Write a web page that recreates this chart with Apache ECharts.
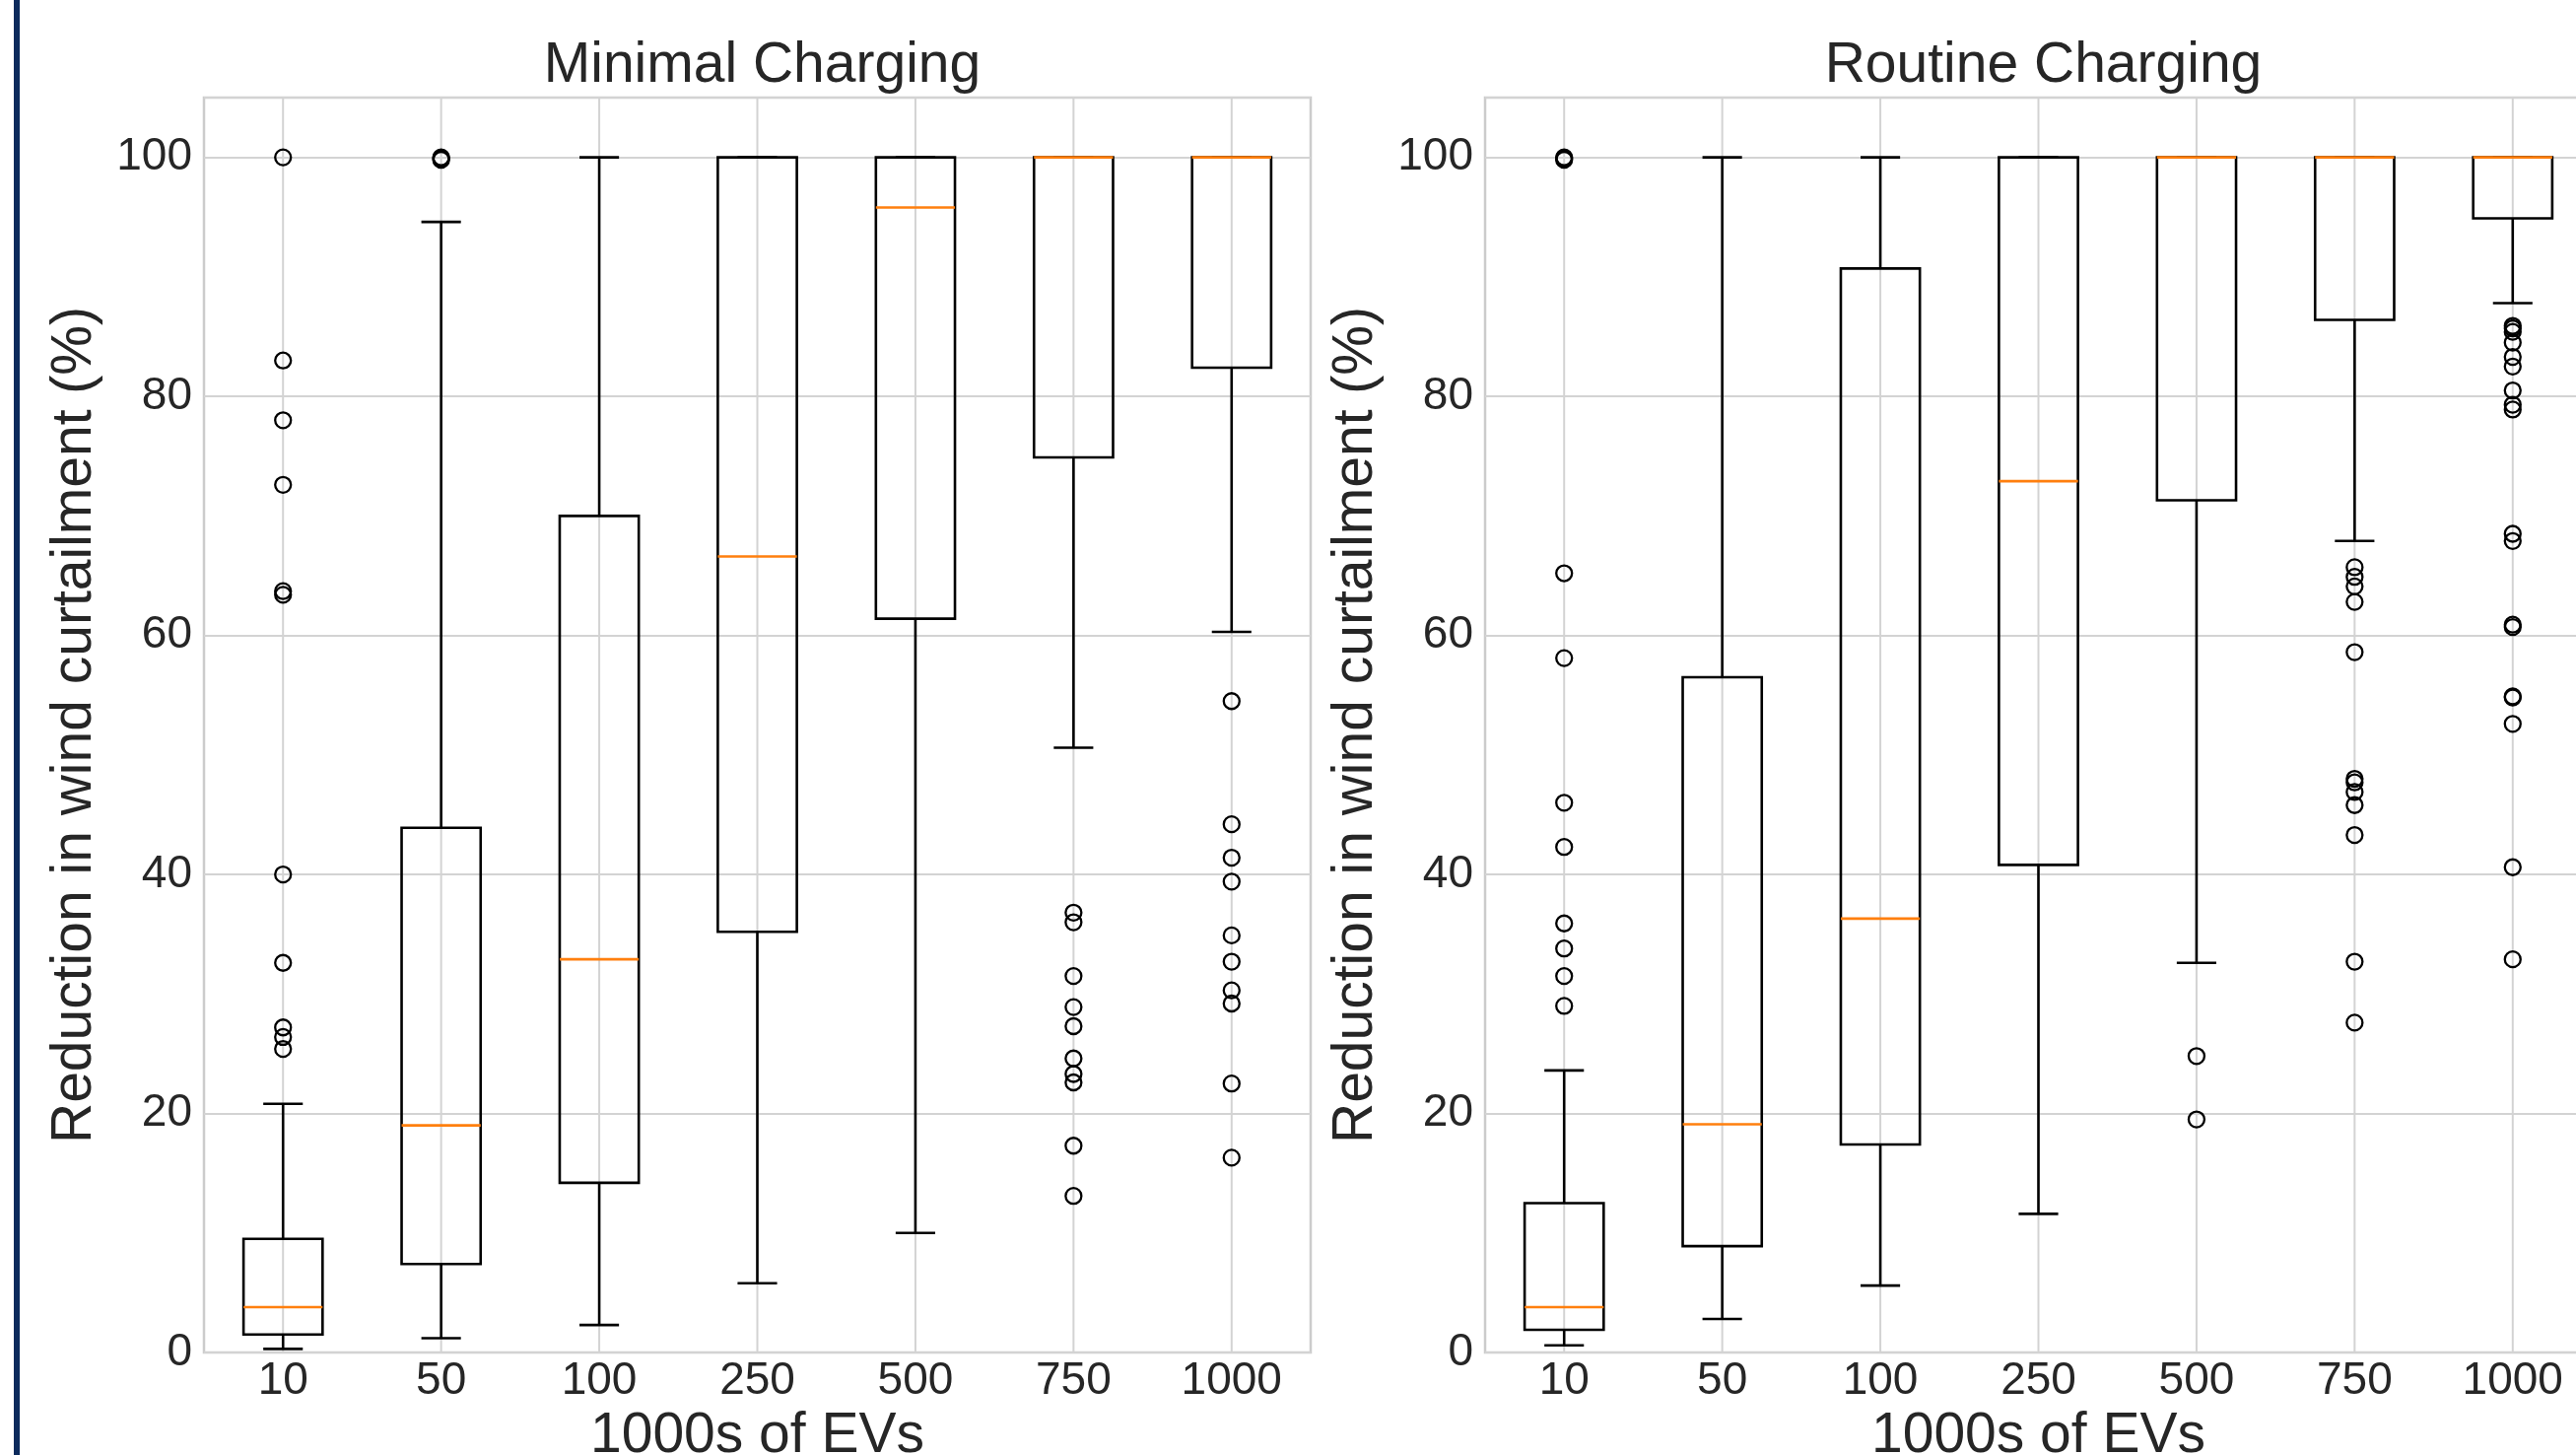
<!DOCTYPE html>
<html>
<head>
<meta charset="utf-8">
<script src="https://cdn.jsdelivr.net/npm/echarts@6/dist/echarts.min.js"></script>
<style>
  html, body { margin: 0; padding: 0; background: #ffffff; width: 2614px; height: 1476px; overflow: hidden; }
  #chart { position: absolute; left: 0; top: 0; width: 2614px; height: 1476px; }
</style>
</head>
<body>
<div id="chart"></div>
<script>
// ---------------- DATA ----------------
const categories = ['10', '50', '100', '250', '500', '750', '1000'];
const yTicks = [0, 20, 40, 60, 80, 100];

const panelTitles = ['Minimal Charging', 'Routine Charging'];
const xAxisTitle = '1000s of EVs';
const yAxisTitle = 'Reduction in wind curtailment (%)';

// Minimal Charging: whisker low, Q1, median, Q3, whisker high
const minimalLow  = [0.3, 1.2, 2.3, 5.8, 10.0, 50.6, 60.3];
const minimalQ1   = [1.5, 7.4, 14.2, 35.2, 61.4, 74.9, 82.4];
const minimalMed  = [3.8, 19.0, 32.9, 66.6, 95.8, 100, 100];
const minimalQ3   = [9.5, 43.9, 70.0, 100, 100, 100, 100];
const minimalHigh = [20.8, 94.6, 100, 100, 100, 100, 100];

const minimalOut10   = [100, 83.0, 78.0, 72.6, 63.7, 63.4, 40.0, 32.6, 27.2, 26.4, 25.4];
const minimalOut50   = [100, 99.9, 99.8];
const minimalOut100  = [];
const minimalOut250  = [];
const minimalOut500  = [];
const minimalOut750  = [36.8, 36.0, 31.5, 28.9, 27.3, 24.6, 23.3, 22.6, 17.3, 13.1];
const minimalOut1000 = [54.5, 44.2, 41.4, 39.4, 34.9, 32.7, 30.3, 29.2, 22.5, 16.3];

// Routine Charging
const routineLow  = [0.6, 2.8, 5.6, 11.6, 32.6, 67.9, 87.8];
const routineQ1   = [1.9, 8.9, 17.4, 40.8, 71.3, 86.4, 94.9];
const routineMed  = [3.8, 19.1, 36.3, 72.9, 100, 100, 100];
const routineQ3   = [12.5, 56.5, 90.7, 100, 100, 100, 100];
const routineHigh = [23.6, 100, 100, 100, 100, 100, 100];

const routineOut10   = [100, 99.9, 99.8, 65.2, 58.1, 46.0, 42.3, 35.9, 33.8, 31.5, 29.0];
const routineOut50   = [];
const routineOut100  = [];
const routineOut250  = [];
const routineOut500  = [24.8, 19.5];
const routineOut750  = [65.7, 64.9, 64.1, 62.8, 58.6, 48.0, 47.7, 46.9, 45.8, 43.3, 32.7, 27.6];
const routineOut1000 = [85.9, 85.7, 85.4, 84.5, 83.3, 82.5, 80.5, 79.3, 78.9, 68.5, 67.9, 60.9, 60.7, 54.9, 54.8, 52.6, 40.6, 32.9];

// ---------------- BUILD ----------------
const FONT = "'Liberation Sans', Arial, Helvetica, sans-serif";
const TEXT_COLOR = '#262626';
const GRID_COLOR = '#d3d3d3';

function boxData(low, q1, med, q3, high) {
  return categories.map((c, i) => [i, low[i], q1[i], med[i], q3[i], high[i]]);
}
function outlierData(lists) {
  const out = [];
  lists.forEach((arr, i) => arr.forEach(v => out.push([i, v])));
  return out;
}

const panels = [
  {
    box: boxData(minimalLow, minimalQ1, minimalMed, minimalQ3, minimalHigh),
    out: outlierData([minimalOut10, minimalOut50, minimalOut100, minimalOut250, minimalOut500, minimalOut750, minimalOut1000])
  },
  {
    box: boxData(routineLow, routineQ1, routineMed, routineQ3, routineHigh),
    out: outlierData([routineOut10, routineOut50, routineOut100, routineOut250, routineOut500, routineOut750, routineOut1000])
  }
];

function renderBox(params, api) {
  const i = api.value(0);
  const low = api.coord([i, api.value(1)]);
  const q1 = api.coord([i, api.value(2)]);
  const med = api.coord([i, api.value(3)]);
  const q3 = api.coord([i, api.value(4)]);
  const high = api.coord([i, api.value(5)]);
  const band = api.size([1, 0])[0];
  const hw = band * 0.25, cw = band * 0.125;
  const x = low[0];
  const st = { stroke: '#000000', lineWidth: 2.6, fill: null };
  return {
    type: 'group',
    children: [
      { type: 'line', shape: { x1: x, y1: low[1], x2: x, y2: q1[1] }, style: st },
      { type: 'line', shape: { x1: x, y1: q3[1], x2: x, y2: high[1] }, style: st },
      { type: 'line', shape: { x1: x - cw, y1: low[1], x2: x + cw, y2: low[1] }, style: st },
      { type: 'line', shape: { x1: x - cw, y1: high[1], x2: x + cw, y2: high[1] }, style: st },
      { type: 'rect', shape: { x: x - hw, y: q3[1], width: 2 * hw, height: q1[1] - q3[1] },
        style: { stroke: '#000000', lineWidth: 2.6, fill: 'rgba(0,0,0,0)' } },
      { type: 'line', shape: { x1: x - hw, y1: med[1], x2: x + hw, y2: med[1] },
        style: { stroke: '#ff7f0e', lineWidth: 2.6 } }
    ]
  };
}

function renderVGrid(params, api) {
  const i = api.value(0);
  const cs = params.coordSys;
  const p = api.coord([i, 0]);
  return {
    type: 'line',
    shape: { x1: p[0], y1: cs.y, x2: p[0], y2: cs.y + cs.height },
    style: { stroke: GRID_COLOR, lineWidth: 2 }
  };
}

const gridLefts = [207, 1507];
const grids = gridLefts.map(l => ({
  left: l, top: 99, width: 1123, height: 1273,
  show: true, borderColor: '#cccccc', borderWidth: 2.5, backgroundColor: '#ffffff',
  containLabel: false, outerBoundsMode: 'none'
}));

const xAxes = [0, 1].map(g => ({
  type: 'category', gridIndex: g, data: categories, boundaryGap: true,
  axisLine: { show: false }, axisTick: { show: false }, splitLine: { show: false },
  axisLabel: { fontSize: 46, color: TEXT_COLOR, fontFamily: FONT, margin: 6 },
  name: xAxisTitle, nameLocation: 'middle', nameGap: 54,
  nameTextStyle: { fontSize: 57, color: TEXT_COLOR, fontFamily: FONT }
}));

const yAxes = [0, 1].map(g => ({
  type: 'value', gridIndex: g, min: 0, max: 105, interval: 20,
  axisLine: { show: false }, axisTick: { show: false },
  splitLine: { show: true, lineStyle: { color: GRID_COLOR, width: 2 } },
  axisLabel: {
    fontSize: 46, color: TEXT_COLOR, fontFamily: FONT, margin: 12, showMaxLabel: false,
    formatter: v => (yTicks.indexOf(v) >= 0 ? String(v) : '')
  },
  name: yAxisTitle, nameLocation: 'middle', nameGap: 102, nameRotate: 90,
  nameTextStyle: { fontSize: 57, color: TEXT_COLOR, fontFamily: FONT }
}));

const series = [];
panels.forEach((p, g) => {
  series.push({
    type: 'custom', xAxisIndex: g, yAxisIndex: g, z: 1, silent: true,
    renderItem: renderVGrid, data: categories.map((c, i) => [i]),
    encode: { x: 0 }
  });
  series.push({
    type: 'custom', xAxisIndex: g, yAxisIndex: g, z: 3, silent: true,
    renderItem: renderBox, data: p.box,
    encode: { x: 0, y: [1, 2, 3, 4, 5] }
  });
  series.push({
    type: 'scatter', xAxisIndex: g, yAxisIndex: g, z: 4, silent: true,
    symbol: 'circle', symbolSize: 16,
    itemStyle: { color: 'rgba(0,0,0,0)', borderColor: '#000000', borderWidth: 2.3, opacity: 1 },
    data: p.out
  });
});

const chart = echarts.init(document.getElementById('chart'), null, { renderer: 'canvas', width: 2614, height: 1476 });
chart.setOption({
  animation: false,
  backgroundColor: '#ffffff',
  title: panelTitles.map((t, g) => ({
    text: t, left: gridLefts[g] + 1123 / 2, top: 34, textAlign: 'center',
    textStyle: { fontSize: 57, fontWeight: 'normal', color: TEXT_COLOR, fontFamily: FONT }
  })),
  graphic: [{
    type: 'rect', left: 14, top: 0, shape: { width: 6, height: 1476 },
    style: { fill: '#0c2a5c' }, silent: true
  }],
  grid: grids,
  xAxis: xAxes,
  yAxis: yAxes,
  series: series
});
</script>
</body>
</html>
